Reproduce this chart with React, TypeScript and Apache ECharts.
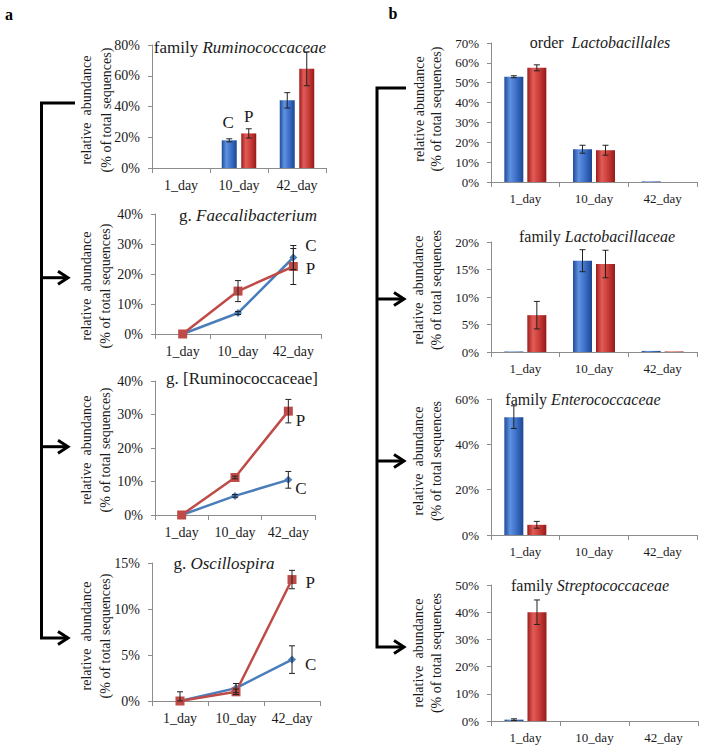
import React, { useEffect, useRef } from 'react';
import * as echarts from 'echarts';

const categories = ['1_day', '10_day', '42_day'];

// panel a1: family Ruminococcaceae (bars)
const ruminococcaceaeC = [0, 18, 44];
const ruminococcaceaeCErr = [0, 1, 5];
const ruminococcaceaeP = [0, 22.5, 64.5];
const ruminococcaceaePErr = [0, 3, 11];

// panel a2: g. Faecalibacterium (lines)
const faecalibacteriumC = [0, 7, 25.5];
const faecalibacteriumCErr = [0, 0.5, 4];
const faecalibacteriumP = [0, 14.3, 22.5];
const faecalibacteriumPErr = [0, 3.5, 6];

// panel a3: g. [Ruminococcaceae] (lines)
const ruminoGenusC = [0, 5.7, 10.5];
const ruminoGenusCErr = [0, 0.4, 2.5];
const ruminoGenusP = [0, 11.2, 31];
const ruminoGenusPErr = [0, 0.4, 3.5];

// panel a4: g. Oscillospira (lines)
const oscillospiraC = [0, 1.4, 4.5];
const oscillospiraCErr = [1, 0.5, 1.5];
const oscillospiraP = [0, 1, 13.2];
const oscillospiraPErr = [0, 0.3, 1];

// panel b1: order Lactobacillales (bars)
const lactobacillalesC = [53, 16.5, 0.3];
const lactobacillalesCErr = [0.5, 2, 0];
const lactobacillalesP = [57.5, 16, 0];
const lactobacillalesPErr = [1.5, 2.5, 0];

// panel b2: family Lactobacillaceae (bars)
const lactobacillaceaeC = [0.1, 16.6, 0.2];
const lactobacillaceaeCErr = [0, 2, 0];
const lactobacillaceaeP = [6.7, 16, 0.1];
const lactobacillaceaePErr = [2.5, 2.5, 0];

// panel b3: family Enterococcaceae (bars)
const enterococcaceaeC = [52, 0, 0];
const enterococcaceaeCErr = [5, 0, 0];
const enterococcaceaeP = [4.5, 0, 0];
const enterococcaceaePErr = [1.5, 0, 0];

// panel b4: family Streptococcaceae (bars)
const streptococcaceaeC = [0.5, 0, 0];
const streptococcaceaeCErr = [0.3, 0, 0];
const streptococcaceaeP = [40, 0, 0];
const streptococcaceaePErr = [4.5, 0, 0];

const SERIF = "'Liberation Serif','Times New Roman',serif";
const TXT = '#1a1a1a';
const AXIS = '#8c8c8c';
const BLUE_LINE = '#4a7ebb';
const RED_LINE = '#be4b48';

const blueGrad = {
  type: 'linear', x: 0, y: 0, x2: 1, y2: 0,
  colorStops: [
    { offset: 0, color: '#1f4b98' },
    { offset: 0.3, color: '#5f92e0' },
    { offset: 0.65, color: '#3a6dc6' },
    { offset: 1, color: '#1d4690' },
  ],
};
const redGrad = {
  type: 'linear', x: 0, y: 0, x2: 1, y2: 0,
  colorStops: [
    { offset: 0, color: '#9c1d1d' },
    { offset: 0.3, color: '#e25c57' },
    { offset: 0.65, color: '#c73a36' },
    { offset: 1, color: '#941a1a' },
  ],
};

type Panel = {
  kind: 'bar' | 'line';
  grid: { left: number; top: number; width: number; height: number };
  max: number;
  interval: number;
  fs: number;
  C: number[]; CErr: number[]; P: number[]; PErr: number[];
  barWidth?: number; barGap?: number;
  cLabel?: { index: number; position: string; offset: number[] };
  pLabel?: { index: number; position: string; offset: number[] };
};

const panels: Panel[] = [
  {
    kind: 'bar', grid: { left: 152, top: 45, width: 174, height: 123 }, max: 80, interval: 20, fs: 14,
    C: ruminococcaceaeC, CErr: ruminococcaceaeCErr, P: ruminococcaceaeP, PErr: ruminococcaceaePErr,
    barWidth: 15, barGap: 0.3,
    cLabel: { index: 1, position: 'top', offset: [-1, -4] },
    pLabel: { index: 1, position: 'top', offset: [0, -3] },
  },
  {
    kind: 'line', grid: { left: 155, top: 214, width: 166, height: 120 }, max: 40, interval: 10, fs: 14,
    C: faecalibacteriumC, CErr: faecalibacteriumCErr, P: faecalibacteriumP, PErr: faecalibacteriumPErr,
    cLabel: { index: 2, position: 'right', offset: [3, -12] },
    pLabel: { index: 2, position: 'right', offset: [3, 2] },
  },
  {
    kind: 'line', grid: { left: 155, top: 381, width: 160, height: 134 }, max: 40, interval: 10, fs: 14,
    C: ruminoGenusC, CErr: ruminoGenusCErr, P: ruminoGenusP, PErr: ruminoGenusPErr,
    cLabel: { index: 2, position: 'right', offset: [-2, 9] },
    pLabel: { index: 2, position: 'right', offset: [-2, 9] },
  },
  {
    kind: 'line', grid: { left: 152, top: 563, width: 168, height: 138 }, max: 15, interval: 5, fs: 14,
    C: oscillospiraC, CErr: oscillospiraCErr, P: oscillospiraP, PErr: oscillospiraPErr,
    cLabel: { index: 2, position: 'right', offset: [4, 5] },
    pLabel: { index: 2, position: 'right', offset: [4, 3] },
  },
  {
    kind: 'bar', grid: { left: 491, top: 43, width: 206, height: 139 }, max: 70, interval: 10, fs: 13,
    C: lactobacillalesC, CErr: lactobacillalesCErr, P: lactobacillalesP, PErr: lactobacillalesPErr,
    barWidth: 19, barGap: 0.21,
  },
  {
    kind: 'bar', grid: { left: 491, top: 242, width: 206, height: 110 }, max: 20, interval: 5, fs: 13,
    C: lactobacillaceaeC, CErr: lactobacillaceaeCErr, P: lactobacillaceaeP, PErr: lactobacillaceaePErr,
    barWidth: 19, barGap: 0.21,
  },
  {
    kind: 'bar', grid: { left: 491, top: 399, width: 206, height: 136 }, max: 60, interval: 20, fs: 13,
    C: enterococcaceaeC, CErr: enterococcaceaeCErr, P: enterococcaceaeP, PErr: enterococcaceaePErr,
    barWidth: 19, barGap: 0.21,
  },
  {
    kind: 'bar', grid: { left: 491, top: 585, width: 207, height: 136 }, max: 50, interval: 10, fs: 13,
    C: streptococcaceaeC, CErr: streptococcaceaeCErr, P: streptococcaceaeP, PErr: streptococcaceaePErr,
    barWidth: 19, barGap: 0.21,
  },
];

const titles = [
  { x: 240, y: 47, n: 'family ', i: 'Ruminococcaceae', fs: 17 },
  { x: 248, y: 215, n: 'g. ', i: 'Faecalibacterium', fs: 17 },
  { x: 242, y: 378, n: 'g. [Ruminococcaceae]', i: '', fs: 17 },
  { x: 224, y: 563, n: 'g. ', i: 'Oscillospira', fs: 17 },
  { x: 600, y: 42, n: 'order  ', i: 'Lactobacillales', fs: 16 },
  { x: 597, y: 236, n: 'family ', i: 'Lactobacillaceae', fs: 16 },
  { x: 583, y: 399, n: 'family ', i: 'Enterococcaceae', fs: 16 },
  { x: 590, y: 585, n: 'family ', i: 'Streptococcaceae', fs: 16 },
];

const yNames = [
  { x: 96, y: 110, t: 'relative  abundance\n(% of total sequences)', lh: 20 },
  { x: 96, y: 286, t: 'relative  abundance\n(% of total sequences)', lh: 19 },
  { x: 96, y: 450, t: 'relative  abundance\n(% of total sequences)', lh: 19 },
  { x: 96, y: 636, t: 'relative  abundance\n(% of total sequences)', lh: 19 },
  { x: 427.5, y: 109, t: 'relative abundance\n(% of total sequences)', lh: 17 },
  { x: 427, y: 290, t: 'relative  abundance\n(% of total sequences', lh: 18 },
  { x: 427, y: 461, t: 'relative  abundance\n(% of total sequences', lh: 18 },
  { x: 427, y: 653, t: 'relative  abundance\n(% of total sequences', lh: 18 },
];

function errorRender(offset: number) {
  return (_params: any, api: any) => {
    const x = api.value(0);
    const v = api.value(1);
    const e = api.value(2);
    if (!e) return null;
    const hi = api.coord([x, v + e]);
    const lo = api.coord([x, Math.max(0, v - e)]);
    const cx = hi[0] + offset;
    const cap = 3;
    const style = { stroke: '#222', lineWidth: 1 };
    return {
      type: 'group',
      children: [
        { type: 'line', shape: { x1: cx, y1: hi[1], x2: cx, y2: lo[1] }, style },
        { type: 'line', shape: { x1: cx - cap, y1: hi[1], x2: cx + cap, y2: hi[1] }, style },
        { type: 'line', shape: { x1: cx - cap, y1: lo[1], x2: cx + cap, y2: lo[1] }, style },
      ],
    };
  };
}

function withLabel(values: number[], lab: Panel['cLabel'], text: string) {
  return values.map((v, i) => {
    if (lab && lab.index === i) {
      return {
        value: v,
        label: {
          show: true, formatter: text, position: lab.position, offset: lab.offset,
          fontFamily: SERIF, fontSize: 17, color: TXT, distance: 5,
        },
      };
    }
    return v;
  });
}

function arrowHead(tipX: number, y: number) {
  return {
    type: 'polyline',
    shape: { points: [[tipX - 10, y - 6.5], [tipX, y], [tipX - 10, y + 6.5]] },
    style: { stroke: '#000', lineWidth: 3, fill: null },
  };
}

function buildOption() {
  const grid: any[] = [];
  const xAxis: any[] = [];
  const yAxis: any[] = [];
  const series: any[] = [];
  panels.forEach((p, k) => {
    grid.push({ ...p.grid, containLabel: false });
    xAxis.push({
      type: 'category', gridIndex: k, data: categories,
      axisLine: { lineStyle: { color: AXIS, width: 1 } },
      axisTick: { show: true, length: 5, interval: 0, lineStyle: { color: AXIS } },
      axisLabel: { fontFamily: SERIF, fontSize: p.fs, color: TXT, margin: 10, interval: 0, hideOverlap: false },
    });
    yAxis.push({
      type: 'value', gridIndex: k, min: 0, max: p.max, interval: p.interval,
      splitLine: { show: false },
      axisLine: { show: true, lineStyle: { color: AXIS, width: 1 } },
      axisTick: { show: true, length: 4, lineStyle: { color: AXIS } },
      axisLabel: { formatter: '{value}%', fontFamily: SERIF, fontSize: p.fs, color: TXT, margin: 12 },
    });
    const cData = categories.map((_, i) => [i, p.C[i], p.CErr[i]]);
    const pData = categories.map((_, i) => [i, p.P[i], p.PErr[i]]);
    if (p.kind === 'bar') {
      const bw = p.barWidth as number;
      const gap = p.barGap as number;
      const off = (bw * (1 + gap)) / 2;
      series.push({
        type: 'bar', xAxisIndex: k, yAxisIndex: k, data: withLabel(p.C, p.cLabel, 'C'),
        barWidth: bw, barGap: `${gap * 100}%`, itemStyle: { color: blueGrad }, z: 2,
      });
      series.push({
        type: 'bar', xAxisIndex: k, yAxisIndex: k, data: withLabel(p.P, p.pLabel, 'P'),
        barWidth: bw, barGap: `${gap * 100}%`, itemStyle: { color: redGrad }, z: 2,
      });
      series.push({
        type: 'custom', xAxisIndex: k, yAxisIndex: k, data: cData,
        encode: { x: 0, y: 1 }, renderItem: errorRender(-off), z: 5, silent: true,
      });
      series.push({
        type: 'custom', xAxisIndex: k, yAxisIndex: k, data: pData,
        encode: { x: 0, y: 1 }, renderItem: errorRender(off), z: 5, silent: true,
      });
    } else {
      series.push({
        type: 'line', xAxisIndex: k, yAxisIndex: k, data: withLabel(p.C, p.cLabel, 'C'),
        symbol: 'diamond', symbolSize: 8, showSymbol: true,
        lineStyle: { color: BLUE_LINE, width: 2.5 }, itemStyle: { color: BLUE_LINE }, z: 3,
      });
      series.push({
        type: 'line', xAxisIndex: k, yAxisIndex: k, data: withLabel(p.P, p.pLabel, 'P'),
        symbol: 'rect', symbolSize: 9, showSymbol: true,
        lineStyle: { color: RED_LINE, width: 2.5 }, itemStyle: { color: RED_LINE }, z: 3,
      });
      series.push({
        type: 'custom', xAxisIndex: k, yAxisIndex: k, data: cData,
        encode: { x: 0, y: 1 }, renderItem: errorRender(0), z: 5, silent: true,
      });
      series.push({
        type: 'custom', xAxisIndex: k, yAxisIndex: k, data: pData,
        encode: { x: 0, y: 1 }, renderItem: errorRender(0), z: 5, silent: true,
      });
    }
  });

  const graphic: any[] = [];
  // panel letters
  graphic.push({ type: 'text', x: 9, y: 14, style: { text: 'a', fontFamily: SERIF, fontWeight: 'bold', fontSize: 16, fill: '#000', align: 'center', verticalAlign: 'middle' } });
  graphic.push({ type: 'text', x: 393, y: 13, style: { text: 'b', fontFamily: SERIF, fontWeight: 'bold', fontSize: 16, fill: '#000', align: 'center', verticalAlign: 'middle' } });

  // titles
  titles.forEach((t) => {
    graphic.push({
      type: 'text', x: t.x, y: t.y,
      style: {
        text: t.i ? `{n|${t.n}}{i|${t.i}}` : `{n|${t.n}}`,
        align: 'center', verticalAlign: 'middle',
        rich: {
          n: { fontFamily: SERIF, fontSize: t.fs, fill: TXT, color: TXT },
          i: { fontFamily: SERIF, fontSize: t.fs, fontStyle: 'italic', fill: TXT, color: TXT },
        },
      },
    });
  });

  // y axis names
  yNames.forEach((n) => {
    graphic.push({
      type: 'text', x: n.x, y: n.y, rotation: Math.PI / 2,
      style: {
        text: n.t, fontFamily: SERIF, fontSize: 14, fill: TXT,
        align: 'center', verticalAlign: 'middle', lineHeight: n.lh,
      },
    });
  });

  // left bracket
  graphic.push({
    type: 'polyline',
    shape: { points: [[75, 103], [41.5, 103], [41.5, 638], [67, 638]] },
    style: { stroke: '#000', lineWidth: 3, fill: null },
  });
  [277.7, 446.7].forEach((y) => {
    graphic.push({ type: 'line', shape: { x1: 41.5, y1: y, x2: 67, y2: y }, style: { stroke: '#000', lineWidth: 3 } });
  });
  [277.7, 446.7, 638].forEach((y) => graphic.push(arrowHead(68, y)));

  // right bracket
  graphic.push({
    type: 'polyline',
    shape: { points: [[406, 88], [377, 88], [377, 647], [403, 647]] },
    style: { stroke: '#000', lineWidth: 3, fill: null },
  });
  [299, 461].forEach((y) => {
    graphic.push({ type: 'line', shape: { x1: 377, y1: y, x2: 403, y2: y }, style: { stroke: '#000', lineWidth: 3 } });
  });
  [299, 461, 647].forEach((y) => graphic.push(arrowHead(404, y)));

  return {
    animation: false,
    backgroundColor: '#ffffff',
    grid, xAxis, yAxis, series, graphic,
  };
}

export default function App() {
  const ref = useRef<HTMLDivElement>(null);
  useEffect(() => {
    if (!ref.current) return;
    const chart = echarts.init(ref.current, undefined, { renderer: 'svg' });
    chart.setOption(buildOption() as any);
    return () => chart.dispose();
  }, []);
  return (
    <div
      ref={ref}
      style={{ position: 'absolute', left: 0, top: 0, width: 708, height: 752, background: '#fff' }}
    />
  );
}
